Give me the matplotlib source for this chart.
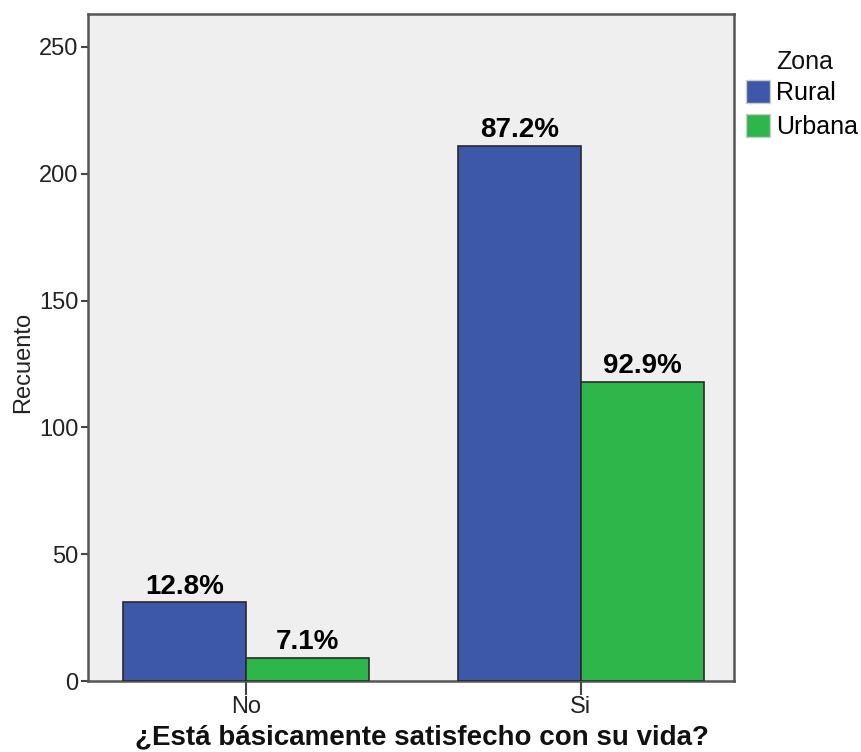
import matplotlib
matplotlib.use("Agg")
import matplotlib.pyplot as plt
from matplotlib.patches import Patch
import numpy as np

categories = ["No", "Si"]
zones = ["Rural", "Urbana"]
rural_counts = [31, 211]
urban_counts = [9, 118]
yticks = [0, 50, 100, 150, 200, 250]

plt.rcParams['font.family'] = ['Liberation Sans', 'DejaVu Sans']

colors = {"Rural": "#3D57A9", "Urbana": "#2EB64A"}
edge = "#2a2a2a"

fig = plt.figure(figsize=(8.62, 7.52), dpi=100)
ax = fig.add_axes([0.102, 0.0944, 0.7495, 0.887])
ax.set_facecolor("#EFEFEF")

x = np.arange(len(categories))
w = 0.367
series = {"Rural": rural_counts, "Urbana": urban_counts}
offsets = {"Rural": -w / 2, "Urbana": w / 2}
for z in zones:
    vals = np.array(series[z])
    tot = vals.sum()
    bars = ax.bar(x + offsets[z], vals, width=w, color=colors[z], edgecolor=edge, linewidth=1.2, zorder=3)
    for b, v in zip(bars, vals):
        ax.annotate(f"{100 * v / tot:.1f}%", (b.get_x() + b.get_width() / 2, b.get_height()),
                    xytext=(0, 2), textcoords="offset points", ha="center", va="bottom",
                    fontsize=20, fontweight="bold", color="black", zorder=4)

ax.set_xlim(-0.472, 1.457)
ax.set_ylim(0, 263)
ax.set_yticks(yticks)
ax.set_xticks(x)
ax.set_xticklabels(categories)
ax.tick_params(axis='y', length=5, width=1.5, color="#444444", labelsize=17, labelcolor="#222222", pad=2)
ax.tick_params(axis='x', length=10, width=1.5, color="#444444", labelsize=17, labelcolor="#222222", pad=1)
for s in ax.spines.values():
    s.set_color("#555555")
    s.set_linewidth(1.8)

ax.set_ylabel("Recuento", fontsize=17, color="#222222", va="center")
ax.yaxis.set_label_coords(-0.1006, 0.478)
ax.set_xlabel("¿Está básicamente satisfecho con su vida?", fontsize=20, fontweight="bold", color="#111111", va="center")
ax.xaxis.set_label_coords(0.517, -0.084)

handles = [Patch(facecolor=colors[z], edgecolor="#cccccc", label=z) for z in zones]
fig.text(0.900, 0.9176, "Zona", fontsize=18, color="#111111", ha="left", va="center")
fig.legend(handles=handles, loc="upper left", bbox_to_anchor=(0.8654, 0.893), frameon=False,
           fontsize=18, handlelength=0.96, handleheight=1.0, handletextpad=0.24, labelspacing=0.36,
           borderpad=0, borderaxespad=0)

fig.savefig("out.png", dpi=100)
